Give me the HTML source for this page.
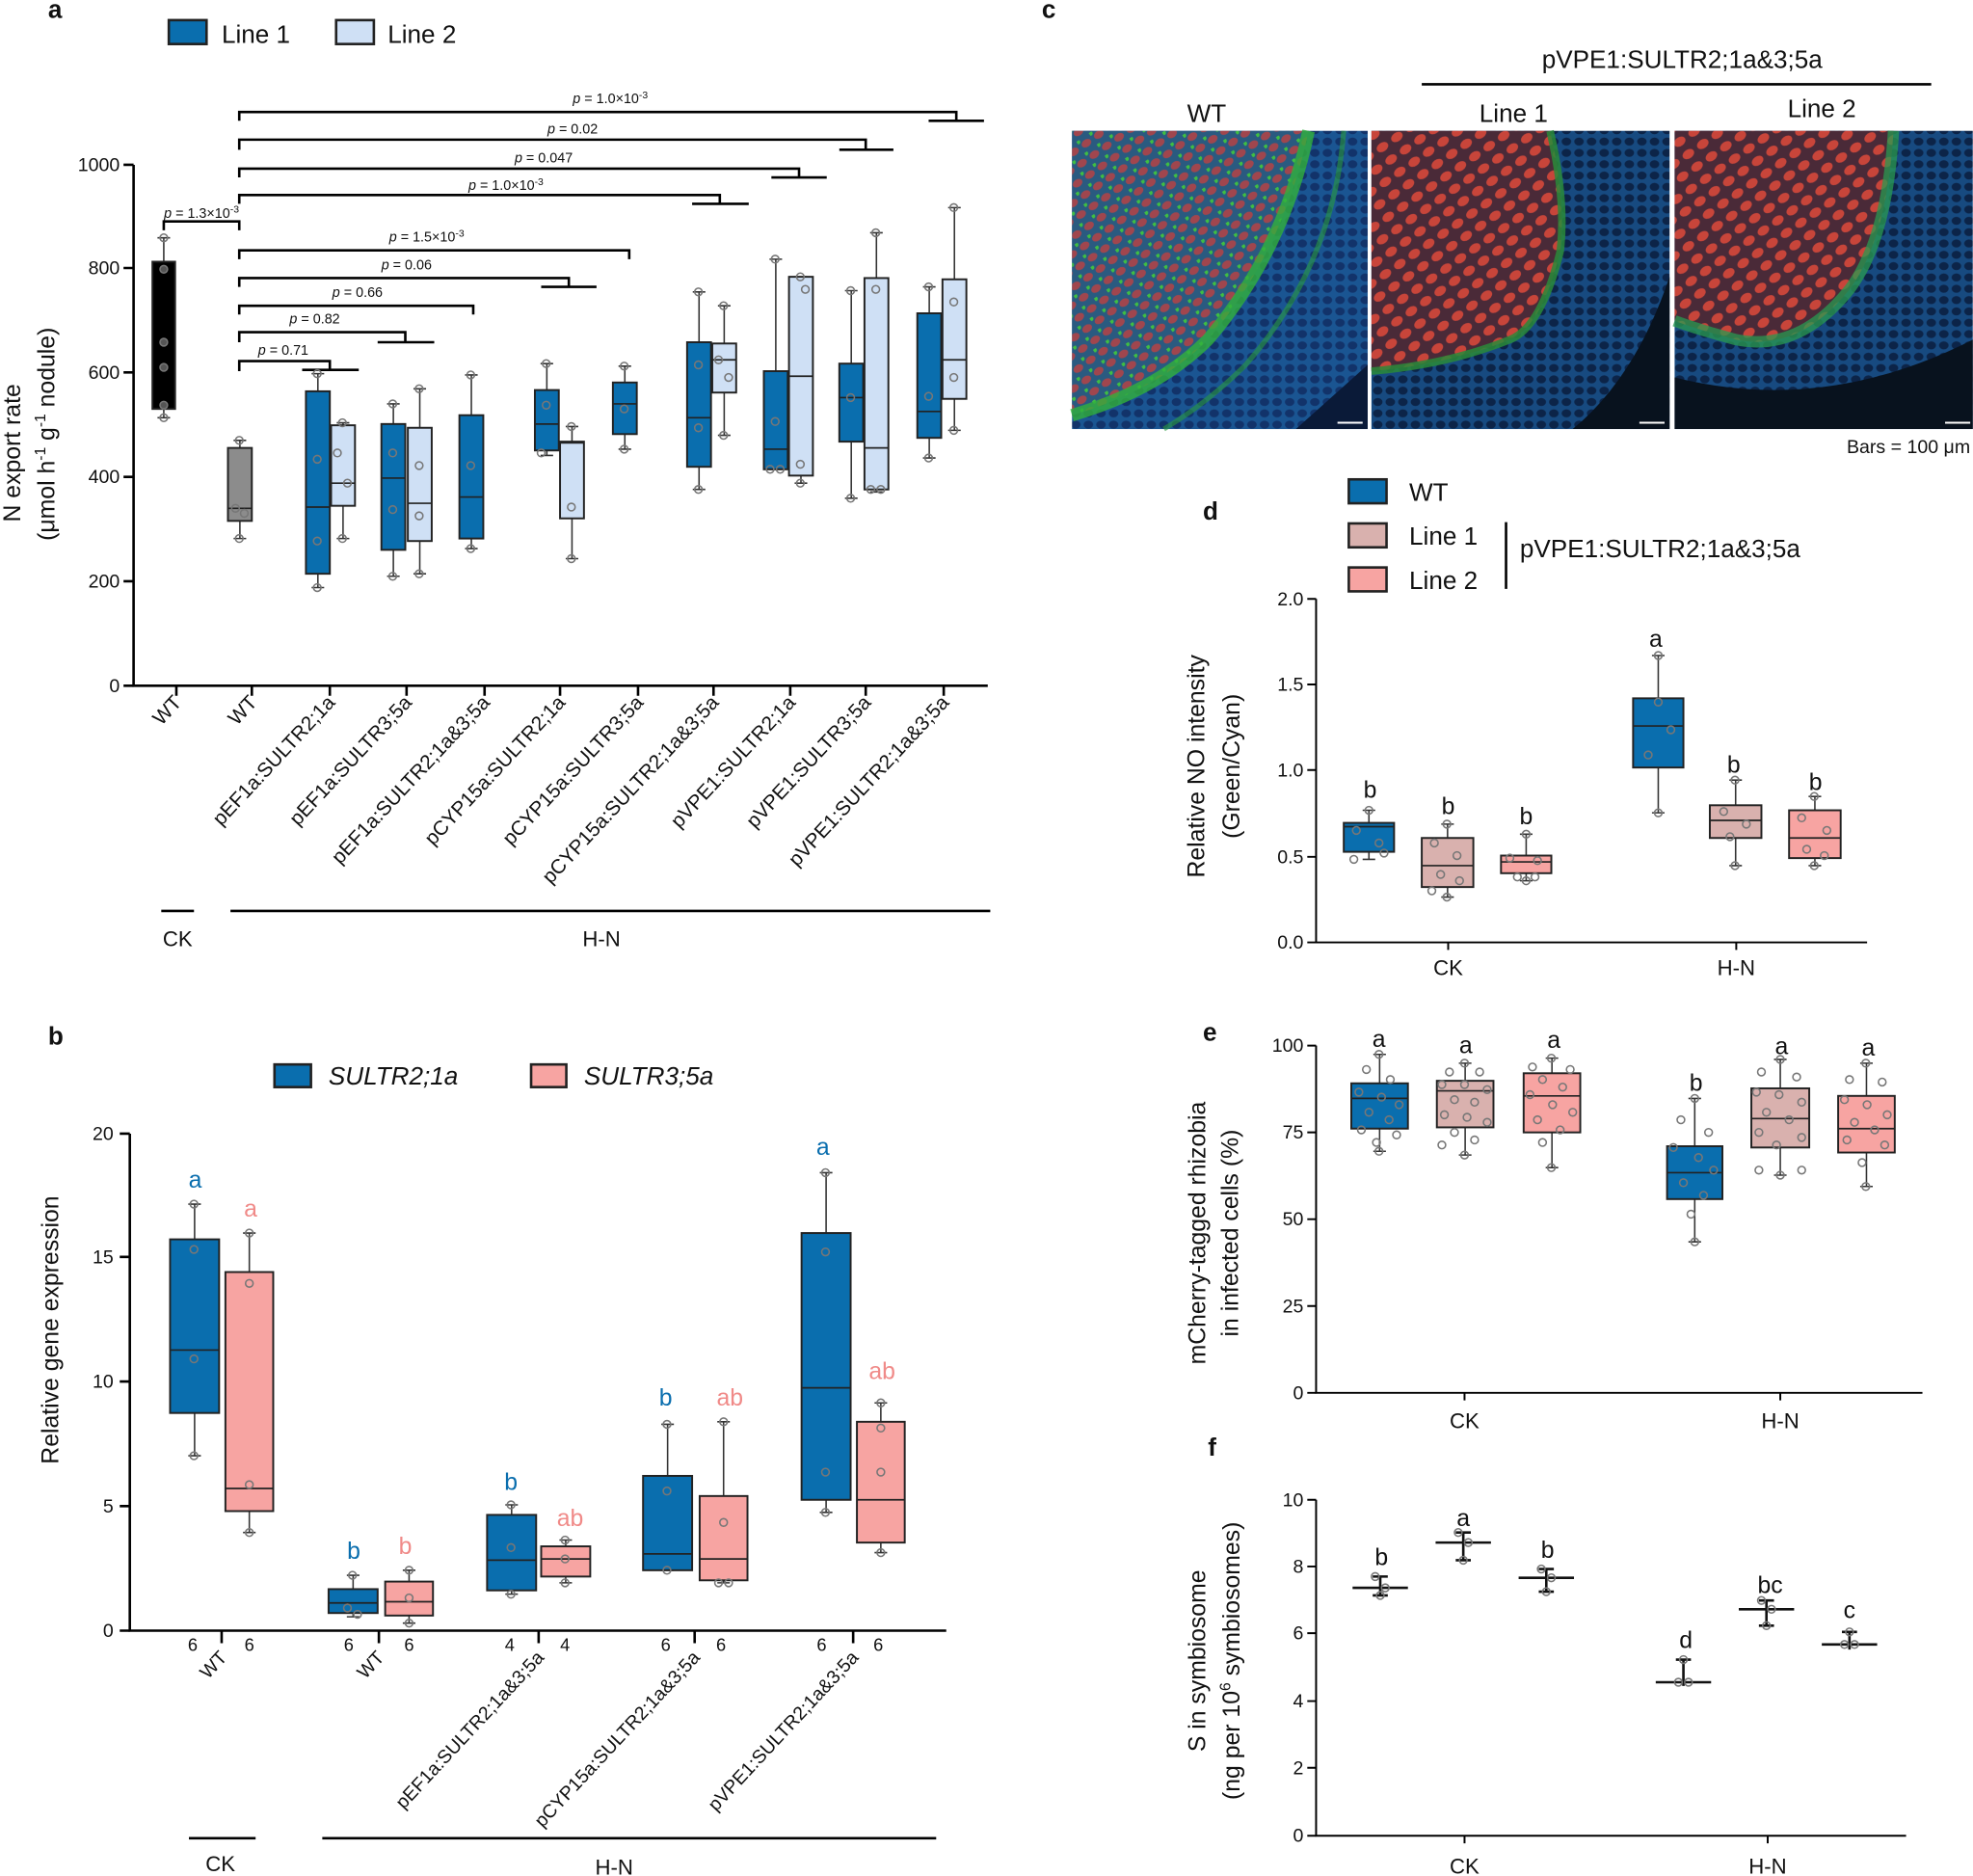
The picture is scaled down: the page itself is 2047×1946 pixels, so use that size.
<!DOCTYPE html>
<html><head><meta charset="utf-8"><style>
html,body{margin:0;padding:0;background:#fff}
svg{display:block}
text{font-family:"Liberation Sans",Arial,sans-serif;fill:#111}
.w{stroke:#333;stroke-width:1.2;fill:none}
.b{stroke:#222;stroke-width:1.5}
.m{stroke:#222;stroke-width:1.3;fill:none}
.d circle{fill:none;stroke:#777;stroke-width:1.2}
</style></head><body>
<svg width="2047" height="1946" viewBox="0 0 1568 1491" xmlns="http://www.w3.org/2000/svg">
<defs>
<pattern id="cellsR" width="14" height="12" patternUnits="userSpaceOnUse" patternTransform="rotate(-35)">
<rect width="14" height="12" fill="#4a2a38"/><ellipse cx="7" cy="6" rx="5" ry="3.6" fill="#c8453a"/></pattern>
<pattern id="cellsW" width="12" height="11" patternUnits="userSpaceOnUse" patternTransform="rotate(-35)">
<rect width="12" height="11" fill="#2a5a80"/><ellipse cx="6" cy="5.5" rx="4.2" ry="3" fill="#a0464e"/><circle cx="1" cy="1" r="1.8" fill="#3fbe43"/></pattern>
<pattern id="cellsB" width="10" height="9" patternUnits="userSpaceOnUse">
<rect width="10" height="9" fill="#1a5592"/><ellipse cx="5" cy="4.5" rx="3.8" ry="3.2" fill="#12336a"/></pattern>
<pattern id="cellsB2" width="10" height="9" patternUnits="userSpaceOnUse">
<rect width="10" height="9" fill="#174a80"/><ellipse cx="5" cy="4.5" rx="3.8" ry="3.2" fill="#0c2448"/></pattern>
</defs>
<g font-size="15">
<!-- PANEL A -->
<text x="38" y="14" font-size="20" font-weight="bold">a</text>
<rect x="134" y="16" width="30" height="19" fill="#0a6eae" stroke="#222" stroke-width="2"/>
<text x="176" y="34" font-size="20">Line 1</text>
<rect x="267" y="16" width="30" height="19" fill="#cfe0f5" stroke="#222" stroke-width="2"/>
<text x="308" y="34" font-size="20">Line 2</text>
<g stroke="#000" stroke-width="2" fill="none">
<path d="M106 131V545H785"/>
<path d="M98 131H106M98 213H106M98 296H106M98 379H106M98 462H106M98 545H106"/>
<path d="M140 545v8M200 545v8M262 545v8M323 545v8M385 545v8M445 545v8M507 545v8M567 545v8M628 545v8M688 545v8M750 545v8"/>
<path d="M190 96V89H760V96M738 96H782"/>
<path d="M190 119V111H688V119M667 119H710"/>
<path d="M190 141V134H635V141M613 141H657"/>
<path d="M190 162V155H572V162M550 162H595"/>
<path d="M190 206V199H500V206"/>
<path d="M190 228V221H452V228M430 228H474"/>
<path d="M190 250V243H376V250"/>
<path d="M190 272V264H322V272M300 272H345"/>
<path d="M190 295V287H262V294M240 294H285"/>
<path d="M130 183V176H190V183"/>
<path d="M128 724H154M183 724H787"/>
</g>
<g text-anchor="end" font-size="15"><text x="95" y="136">1000</text><text x="95" y="218">800</text><text x="95" y="301">600</text><text x="95" y="384">400</text><text x="95" y="467">200</text><text x="95" y="550">0</text></g>
<g font-size="11" text-anchor="middle">
<text x="485" y="82"><tspan font-style="italic">p</tspan> = 1.0×10<tspan dy="-4" font-size="8">-3</tspan></text>
<text x="455" y="106"><tspan font-style="italic">p</tspan> = 0.02</text>
<text x="432" y="129"><tspan font-style="italic">p</tspan> = 0.047</text>
<text x="402" y="151"><tspan font-style="italic">p</tspan> = 1.0×10<tspan dy="-4" font-size="8">-3</tspan></text>
<text x="339" y="192"><tspan font-style="italic">p</tspan> = 1.5×10<tspan dy="-4" font-size="8">-3</tspan></text>
<text x="323" y="214"><tspan font-style="italic">p</tspan> = 0.06</text>
<text x="284" y="236"><tspan font-style="italic">p</tspan> = 0.66</text>
<text x="250" y="257"><tspan font-style="italic">p</tspan> = 0.82</text>
<text x="225" y="282"><tspan font-style="italic">p</tspan> = 0.71</text>
<text x="160" y="173"><tspan font-style="italic">p</tspan> = 1.3×10<tspan dy="-4" font-size="8">-3</tspan></text>
</g>
<text transform="translate(16,360) rotate(-90)" text-anchor="middle" font-size="19">N export rate</text>
<text transform="translate(43,345) rotate(-90)" text-anchor="middle" font-size="19">(μmol h<tspan dy="-7" font-size="12">-1</tspan><tspan dy="7"> g</tspan><tspan dy="-7" font-size="12">-1</tspan><tspan dy="7"> nodule)</tspan></text>
<g font-size="16" text-anchor="end">
<text transform="translate(145,559) rotate(-47)">WT</text>
<text transform="translate(205,559) rotate(-47)">WT</text>
<text transform="translate(267,559) rotate(-47)">pEF1a:SULTR2;1a</text>
<text transform="translate(328,559) rotate(-47)">pEF1a:SULTR3;5a</text>
<text transform="translate(390,559) rotate(-47)">pEF1a:SULTR2;1a&amp;3;5a</text>
<text transform="translate(450,559) rotate(-47)">pCYP15a:SULTR2;1a</text>
<text transform="translate(512,559) rotate(-47)">pCYP15a:SULTR3;5a</text>
<text transform="translate(572,559) rotate(-47)">pCYP15a:SULTR2;1a&amp;3;5a</text>
<text transform="translate(633,559) rotate(-47)">pVPE1:SULTR2;1a</text>
<text transform="translate(693,559) rotate(-47)">pVPE1:SULTR3;5a</text>
<text transform="translate(755,559) rotate(-47)">pVPE1:SULTR2;1a&amp;3;5a</text>
</g>
<text x="141" y="752" text-anchor="middle" font-size="17">CK</text>
<text x="478" y="752" text-anchor="middle" font-size="17">H-N</text>

<!-- panel a boxes -->
<g class="w">
<path d="M130 189V332M125 189h10M125 332h10"/>
<path d="M190.5 350V428M185.5 350h10M185.5 428h10"/>
<path d="M252.5 297V467M247.5 297h10M247.5 467h10"/>
<path d="M272.5 336V428M267.5 336h10M267.5 428h10"/>
<path d="M312.5 321V458M307.5 321h10M307.5 458h10"/>
<path d="M333.5 309V456M328.5 309h10M328.5 456h10"/>
<path d="M374.5 298V436M369.5 298h10M369.5 436h10"/>
<path d="M434.5 289V362M429.5 289h10M429.5 362h10"/>
<path d="M454.5 339V444M449.5 339h10M449.5 444h10"/>
<path d="M496.5 291V357M491.5 291h10M491.5 357h10"/>
<path d="M555.5 232V389M550.5 232h10M550.5 389h10"/>
<path d="M575.5 243V346M570.5 243h10M570.5 346h10"/>
<path d="M616.5 206V373M611.5 206h10M611.5 373h10"/>
<path d="M636.5 220V384M631.5 220h10M631.5 384h10"/>
<path d="M676.5 231V396M671.5 231h10M671.5 396h10"/>
<path d="M696.5 185V391M691.5 185h10M691.5 391h10"/>
<path d="M738.5 228V364M733.5 228h10M733.5 364h10"/>
<path d="M758.5 165V342M753.5 165h10M753.5 342h10"/>
</g>
<g class="b">
<rect x="121" y="208" width="18" height="117" fill="#000"/>
<rect x="181" y="356" width="19" height="58" fill="#8c8c8c"/>
<rect x="243" y="311" width="19" height="145" fill="#0a6eae"/>
<rect x="263" y="338" width="19" height="64" fill="#cfe0f5"/>
<rect x="303" y="337" width="19" height="100" fill="#0a6eae"/>
<rect x="324" y="340" width="19" height="90" fill="#cfe0f5"/>
<rect x="365" y="330" width="19" height="98" fill="#0a6eae"/>
<rect x="425" y="310" width="19" height="48" fill="#0a6eae"/>
<rect x="445" y="351" width="19" height="61" fill="#cfe0f5"/>
<rect x="487" y="304" width="19" height="41" fill="#0a6eae"/>
<rect x="546" y="272" width="19" height="99" fill="#0a6eae"/>
<rect x="566" y="273" width="19" height="39" fill="#cfe0f5"/>
<rect x="607" y="295" width="19" height="78" fill="#0a6eae"/>
<rect x="627" y="220" width="19" height="158" fill="#cfe0f5"/>
<rect x="667" y="289" width="19" height="62" fill="#0a6eae"/>
<rect x="687" y="221" width="19" height="168" fill="#cfe0f5"/>
<rect x="729" y="249" width="19" height="99" fill="#0a6eae"/>
<rect x="749" y="222" width="19" height="95" fill="#cfe0f5"/>
</g>
<path class="m" d="M181 404h19M243 403h19M263 384h19M303 380h19M324 400h19M365 395h19M425 337h19M445 352h19M487 321h19M546 332h19M566 286h19M607 357h19M627 299h19M667 316h19M687 356h19M729 327h19M749 286h19"/>
<g class="d">
<circle cx="130" cy="189" r="3"/><circle cx="130" cy="214" r="3" style="fill:#555"/><circle cx="130" cy="272" r="3" style="fill:#555"/><circle cx="130" cy="292" r="3" style="fill:#555"/><circle cx="130" cy="322" r="3" style="fill:#555"/><circle cx="130" cy="332" r="3"/>
<circle cx="190" cy="350" r="3"/><circle cx="187" cy="404" r="3"/><circle cx="194" cy="408" r="3"/><circle cx="190" cy="428" r="3"/>
<circle cx="252" cy="297" r="3"/><circle cx="252" cy="365" r="3"/><circle cx="252" cy="430" r="3"/><circle cx="252" cy="467" r="3"/>
<circle cx="272" cy="336" r="3"/><circle cx="268" cy="360" r="3"/><circle cx="276" cy="384" r="3"/><circle cx="272" cy="428" r="3"/>
<circle cx="312" cy="321" r="3"/><circle cx="312" cy="360" r="3"/><circle cx="312" cy="405" r="3"/><circle cx="312" cy="458" r="3"/>
<circle cx="333" cy="309" r="3"/><circle cx="333" cy="370" r="3"/><circle cx="333" cy="410" r="3"/><circle cx="333" cy="456" r="3"/>
<circle cx="374" cy="298" r="3"/><circle cx="374" cy="370" r="3"/><circle cx="374" cy="436" r="3"/>
<circle cx="434" cy="289" r="3"/><circle cx="434" cy="322" r="3"/><circle cx="430" cy="360" r="3"/><circle cx="454" cy="339" r="3"/><circle cx="454" cy="403" r="3"/><circle cx="454" cy="444" r="3"/>
<circle cx="496" cy="291" r="3"/><circle cx="496" cy="325" r="3"/><circle cx="496" cy="357" r="3"/>
<circle cx="555" cy="232" r="3"/><circle cx="555" cy="290" r="3"/><circle cx="555" cy="340" r="3"/><circle cx="555" cy="389" r="3"/>
<circle cx="575" cy="243" r="3"/><circle cx="571" cy="286" r="3"/><circle cx="579" cy="300" r="3"/><circle cx="575" cy="346" r="3"/>
<circle cx="616" cy="206" r="3"/><circle cx="616" cy="335" r="3"/><circle cx="612" cy="373" r="3"/><circle cx="620" cy="373" r="3"/>
<circle cx="636" cy="220" r="3"/><circle cx="640" cy="230" r="3"/><circle cx="636" cy="369" r="3"/><circle cx="636" cy="384" r="3"/>
<circle cx="676" cy="231" r="3"/><circle cx="676" cy="316" r="3"/><circle cx="676" cy="396" r="3"/>
<circle cx="696" cy="185" r="3"/><circle cx="696" cy="230" r="3"/><circle cx="692" cy="389" r="3"/><circle cx="700" cy="389" r="3"/>
<circle cx="738" cy="228" r="3"/><circle cx="738" cy="315" r="3"/><circle cx="738" cy="364" r="3"/>
<circle cx="758" cy="165" r="3"/><circle cx="758" cy="240" r="3"/><circle cx="758" cy="300" r="3"/><circle cx="758" cy="342" r="3"/>
</g>

<!-- PANEL B -->
<text x="38" y="830" font-size="20" font-weight="bold">b</text>
<rect x="218" y="846" width="29" height="18" fill="#0a6eae" stroke="#222" stroke-width="2"/>
<text x="261" y="862" font-size="20" font-style="italic">SULTR2;1a</text>
<rect x="422" y="846" width="28" height="18" fill="#f7a4a2" stroke="#222" stroke-width="2"/>
<text x="464" y="862" font-size="20" font-style="italic">SULTR3;5a</text>
<g stroke="#000" stroke-width="2" fill="none">
<path d="M103 901V1296H752"/>
<path d="M95 901H103M95 999H103M95 1098H103M95 1197H103M95 1296H103"/>
<path d="M176 1296v10M301 1296v10M428 1296v10M552 1296v10M678 1296v10"/>
<path d="M150 1461H203M256 1461H744"/>
</g>
<g text-anchor="end"><text x="90" y="906">20</text><text x="90" y="1004">15</text><text x="90" y="1103">10</text><text x="90" y="1202">5</text><text x="90" y="1301">0</text></g>
<g text-anchor="middle" font-size="14"><text x="153" y="1312">6</text><text x="198" y="1312">6</text><text x="277" y="1312">6</text><text x="325" y="1312">6</text><text x="405" y="1312">4</text><text x="449" y="1312">4</text><text x="529" y="1312">6</text><text x="573" y="1312">6</text><text x="653" y="1312">6</text><text x="698" y="1312">6</text></g>
<g font-size="15" text-anchor="end">
<text transform="translate(181,1318) rotate(-47)">WT</text>
<text transform="translate(306,1318) rotate(-47)">WT</text>
<text transform="translate(433,1318) rotate(-47)">pEF1a:SULTR2;1a&amp;3;5a</text>
<text transform="translate(557,1318) rotate(-47)">pCYP15a:SULTR2;1a&amp;3;5a</text>
<text transform="translate(683,1318) rotate(-47)">pVPE1:SULTR2;1a&amp;3;5a</text>
</g>
<text x="175" y="1487" text-anchor="middle" font-size="17">CK</text>
<text x="488" y="1490" text-anchor="middle" font-size="17">H-N</text>
<text transform="translate(46,1057) rotate(-90)" text-anchor="middle" font-size="19">Relative gene expression</text>
<g font-size="19" text-anchor="middle">
<text x="155" y="944" style="fill:#0a6eae">a</text><text x="199" y="967" style="fill:#f08a88">a</text>
<text x="281" y="1239" style="fill:#0a6eae">b</text><text x="322" y="1235" style="fill:#f08a88">b</text>
<text x="406" y="1184" style="fill:#0a6eae">b</text><text x="453" y="1213" style="fill:#f08a88">ab</text>
<text x="529" y="1117" style="fill:#0a6eae">b</text><text x="580" y="1117" style="fill:#f08a88">ab</text>
<text x="654" y="918" style="fill:#0a6eae">a</text><text x="701" y="1096" style="fill:#f08a88">ab</text>
</g>
<g class="w">
<path d="M154.5 957V1157M149.5 957h10M149.5 1157h10"/>
<path d="M198 980V1218M193 980h10M193 1218h10"/>
<path d="M280.5 1252V1285M275.5 1252h10M275.5 1285h10"/>
<path d="M325 1248V1290M320 1248h10M320 1290h10"/>
<path d="M406.5 1196V1267M401.5 1196h10M401.5 1267h10"/>
<path d="M449.5 1224V1258M444.5 1224h10M444.5 1258h10"/>
<path d="M530.5 1132V1248M525.5 1132h10M525.5 1248h10"/>
<path d="M575 1130V1258M570 1130h10M570 1258h10"/>
<path d="M656.5 932V1202M651.5 932h10M651.5 1202h10"/>
<path d="M700 1115V1234M695 1115h10M695 1234h10"/>
</g>
<g class="b">
<rect x="135" y="985" width="39" height="138" fill="#0a6eae"/>
<rect x="179" y="1011" width="38" height="190" fill="#f7a4a2"/>
<rect x="261" y="1263" width="39" height="19" fill="#0a6eae"/>
<rect x="306" y="1257" width="38" height="27" fill="#f7a4a2"/>
<rect x="387" y="1204" width="39" height="60" fill="#0a6eae"/>
<rect x="430" y="1229" width="39" height="24" fill="#f7a4a2"/>
<rect x="511" y="1173" width="39" height="75" fill="#0a6eae"/>
<rect x="556" y="1189" width="38" height="67" fill="#f7a4a2"/>
<rect x="637" y="980" width="39" height="212" fill="#0a6eae"/>
<rect x="681" y="1130" width="38" height="96" fill="#f7a4a2"/>
</g>
<path class="m" d="M135 1073h39M179 1183h38M261 1274h39M306 1273h38M387 1240h39M430 1239h39M511 1235h39M556 1239h38M637 1103h39M681 1192h38"/>
<g class="d">
<circle cx="154" cy="957" r="3"/><circle cx="154" cy="993" r="3"/><circle cx="154" cy="1080" r="3"/><circle cx="154" cy="1157" r="3"/>
<circle cx="198" cy="980" r="3"/><circle cx="198" cy="1020" r="3"/><circle cx="198" cy="1180" r="3"/><circle cx="198" cy="1218" r="3"/>
<circle cx="280" cy="1252" r="3"/><circle cx="276" cy="1278" r="3"/><circle cx="284" cy="1283" r="3"/>
<circle cx="325" cy="1248" r="3"/><circle cx="325" cy="1270" r="3"/><circle cx="325" cy="1290" r="3"/>
<circle cx="406" cy="1196" r="3"/><circle cx="406" cy="1230" r="3"/><circle cx="406" cy="1267" r="3"/>
<circle cx="449" cy="1224" r="3"/><circle cx="449" cy="1239" r="3"/><circle cx="449" cy="1258" r="3"/>
<circle cx="530" cy="1132" r="3"/><circle cx="530" cy="1185" r="3"/><circle cx="530" cy="1248" r="3"/>
<circle cx="575" cy="1130" r="3"/><circle cx="575" cy="1210" r="3"/><circle cx="571" cy="1258" r="3"/><circle cx="579" cy="1258" r="3"/>
<circle cx="656" cy="932" r="3"/><circle cx="656" cy="995" r="3"/><circle cx="656" cy="1170" r="3"/><circle cx="656" cy="1202" r="3"/>
<circle cx="700" cy="1115" r="3"/><circle cx="700" cy="1135" r="3"/><circle cx="700" cy="1170" r="3"/><circle cx="700" cy="1234" r="3"/>
</g>

<!-- PANEL C -->
<text x="828" y="14" font-size="20" font-weight="bold">c</text>
<text x="1337" y="54" text-anchor="middle" font-size="20">pVPE1:SULTR2;1a&amp;3;5a</text>
<path d="M1130 67H1535" stroke="#000" stroke-width="2"/>
<text x="959" y="97" text-anchor="middle" font-size="20">WT</text>
<text x="1203" y="97" text-anchor="middle" font-size="20">Line 1</text>
<text x="1448" y="93" text-anchor="middle" font-size="20">Line 2</text>
<rect x="852" y="104" width="235" height="237" fill="url(#cellsB)"/>
<path d="M1030 341L1087 290V341Z" fill="#0a1a38"/>
<path d="M852 104H1040Q1020 200 960 270Q920 310 852 330Z" fill="url(#cellsW)"/>
<path d="M1040 104Q1020 200 960 270Q920 310 852 330" stroke="#32b03c" stroke-width="10" fill="none" opacity="0.8"/>
<path d="M1068 104Q1060 210 990 290Q960 320 925 341" stroke="#2a9a40" stroke-width="4" fill="none" opacity="0.6"/>
<rect x="1090" y="104" width="237" height="237" fill="url(#cellsB2)"/>
<path d="M1250 341Q1300 300 1327 220V341Z" fill="#08121e"/>
<path d="M1090 104H1232Q1245 160 1240 200Q1225 260 1200 270Q1150 290 1090 295Z" fill="url(#cellsR)"/>
<path d="M1232 104Q1245 160 1240 200Q1225 260 1200 270Q1150 290 1090 295" stroke="#2a8a3a" stroke-width="6" fill="none" opacity="0.85"/>
<rect x="1331" y="104" width="237" height="237" fill="url(#cellsB2)"/>
<path d="M1331 300Q1450 330 1568 270V341H1331Z" fill="#08121e"/>
<path d="M1331 104H1505Q1500 190 1470 230Q1430 280 1380 270Q1350 262 1331 255Z" fill="url(#cellsR)"/>
<path d="M1505 104Q1500 190 1470 230Q1430 280 1380 270Q1350 262 1331 255" stroke="#2a9a50" stroke-width="9" fill="none" opacity="0.75"/>
<g stroke="#fff" stroke-width="1.5"><path d="M1063 336h20M1303 336h20M1546 336h20"/></g>
<text x="1566" y="360" text-anchor="end" font-size="15">Bars = 100 μm</text>

<!-- PANEL D -->
<text x="956" y="413" font-size="20" font-weight="bold">d</text>
<rect x="1072" y="381" width="30" height="19" fill="#0a6eae" stroke="#222" stroke-width="2"/>
<text x="1120" y="398" font-size="20">WT</text>
<rect x="1072" y="416" width="30" height="19" fill="#d9b1ae" stroke="#222" stroke-width="2"/>
<text x="1120" y="433" font-size="20">Line 1</text>
<rect x="1072" y="451" width="30" height="19" fill="#f7a4a2" stroke="#222" stroke-width="2"/>
<text x="1120" y="468" font-size="20">Line 2</text>
<path d="M1197 415V468" stroke="#000" stroke-width="2"/>
<text x="1208" y="443" font-size="20">pVPE1:SULTR2;1a&amp;3;5a</text>
<g stroke="#000" stroke-width="1.5" fill="none">
<path d="M1046 476V749H1484"/>
<path d="M1039 476H1046M1039 544H1046M1039 612H1046M1039 681H1046M1039 749H1046"/>
<path d="M1151 749v6M1380 749v6"/>
</g>
<g text-anchor="end"><text x="1036" y="481">2.0</text><text x="1036" y="549">1.5</text><text x="1036" y="617">1.0</text><text x="1036" y="686">0.5</text><text x="1036" y="754">0.0</text></g>
<text x="1151" y="775" text-anchor="middle" font-size="17">CK</text>
<text x="1380" y="775" text-anchor="middle" font-size="17">H-N</text>
<text transform="translate(957,609) rotate(-90)" text-anchor="middle" font-size="19">Relative NO intensity</text>
<text transform="translate(985,609) rotate(-90)" text-anchor="middle" font-size="19">(Green/Cyan)</text>
<g font-size="19" text-anchor="middle"><text x="1089" y="634">b</text><text x="1151" y="647">b</text><text x="1213" y="655">b</text><text x="1316" y="514">a</text><text x="1378" y="614">b</text><text x="1443" y="628">b</text></g>
<g class="w">
<path d="M1088 644V683M1083 644h10M1083 683h10"/>
<path d="M1150.5 655V713M1145.5 655h10M1145.5 713h10"/>
<path d="M1213 663V700M1208 663h10M1208 700h10"/>
<path d="M1318 521V646M1313 521h10M1313 646h10"/>
<path d="M1379.5 620V688M1374.5 620h10M1374.5 688h10"/>
<path d="M1442.5 633V688M1437.5 633h10M1437.5 688h10"/>
</g>
<g class="b">
<rect x="1068" y="654" width="40" height="23" fill="#0a6eae"/>
<rect x="1130" y="666" width="41" height="39" fill="#d9b1ae"/>
<rect x="1193" y="680" width="40" height="14" fill="#f7a4a2"/>
<rect x="1298" y="555" width="40" height="55" fill="#0a6eae"/>
<rect x="1359" y="640" width="41" height="26" fill="#d9b1ae"/>
<rect x="1422" y="644" width="41" height="38" fill="#f7a4a2"/>
</g>
<path class="m" d="M1068 657h40M1130 688h41M1193 685h40M1298 577h40M1359 652h41M1422 666h41"/>
<g class="d">
<circle cx="1088" cy="644" r="3"/><circle cx="1078" cy="660" r="3"/><circle cx="1096" cy="670" r="3"/><circle cx="1076" cy="683" r="3"/><circle cx="1100" cy="678" r="3"/>
<circle cx="1150" cy="655" r="3"/><circle cx="1140" cy="670" r="3"/><circle cx="1158" cy="680" r="3"/><circle cx="1145" cy="695" r="3"/><circle cx="1160" cy="700" r="3"/><circle cx="1150" cy="713" r="3"/><circle cx="1138" cy="708" r="3"/>
<circle cx="1213" cy="663" r="3"/><circle cx="1200" cy="682" r="3"/><circle cx="1222" cy="684" r="3"/><circle cx="1206" cy="697" r="3"/><circle cx="1220" cy="697" r="3"/><circle cx="1213" cy="700" r="3"/>
<circle cx="1318" cy="521" r="3"/><circle cx="1318" cy="558" r="3"/><circle cx="1328" cy="580" r="3"/><circle cx="1310" cy="600" r="3"/><circle cx="1318" cy="646" r="3"/>
<circle cx="1379" cy="620" r="3"/><circle cx="1370" cy="645" r="3"/><circle cx="1388" cy="655" r="3"/><circle cx="1375" cy="665" r="3"/><circle cx="1379" cy="688" r="3"/>
<circle cx="1442" cy="633" r="3"/><circle cx="1432" cy="650" r="3"/><circle cx="1452" cy="660" r="3"/><circle cx="1436" cy="675" r="3"/><circle cx="1450" cy="680" r="3"/><circle cx="1442" cy="688" r="3"/>
</g>

<!-- PANEL E -->
<text x="956" y="827" font-size="20" font-weight="bold">e</text>
<g stroke="#000" stroke-width="1.5" fill="none">
<path d="M1046 831V1107H1528"/>
<path d="M1039 831H1046M1039 900H1046M1039 969H1046M1039 1038H1046M1039 1107H1046"/>
<path d="M1164 1107v6M1415 1107v6"/>
</g>
<g text-anchor="end"><text x="1036" y="836">100</text><text x="1036" y="905">75</text><text x="1036" y="974">50</text><text x="1036" y="1043">25</text><text x="1036" y="1112">0</text></g>
<text x="1164" y="1135" text-anchor="middle" font-size="17">CK</text>
<text x="1415" y="1135" text-anchor="middle" font-size="17">H-N</text>
<text transform="translate(958,980) rotate(-90)" text-anchor="middle" font-size="19">mCherry-tagged  rhizobia</text>
<text transform="translate(984,980) rotate(-90)" text-anchor="middle" font-size="19">in infected cells (%)</text>
<g font-size="19" text-anchor="middle"><text x="1096" y="832">a</text><text x="1165" y="837">a</text><text x="1235" y="833">a</text><text x="1348" y="867">b</text><text x="1416" y="838">a</text><text x="1485" y="839">a</text></g>
<g class="w">
<path d="M1096.5 838V915M1091.5 838h10M1091.5 915h10"/>
<path d="M1164.5 845V918M1159.5 845h10M1159.5 918h10"/>
<path d="M1233.5 841V928M1228.5 841h10M1228.5 928h10"/>
<path d="M1347 873V987M1342 873h10M1342 987h10"/>
<path d="M1415 842V934M1410 842h10M1410 934h10"/>
<path d="M1483.5 845V943M1478.5 845h10M1478.5 943h10"/>
</g>
<g class="b">
<rect x="1074" y="861" width="45" height="36" fill="#0a6eae"/>
<rect x="1142" y="859" width="45" height="37" fill="#d9b1ae"/>
<rect x="1211" y="853" width="45" height="47" fill="#f7a4a2"/>
<rect x="1325" y="911" width="44" height="42" fill="#0a6eae"/>
<rect x="1392" y="865" width="46" height="47" fill="#d9b1ae"/>
<rect x="1461" y="871" width="45" height="45" fill="#f7a4a2"/>
</g>
<path class="m" d="M1074 873h45M1142 867h45M1211 871h45M1325 932h44M1392 889h46M1461 897h45"/>
<g class="d">
<circle cx="1096" cy="838" r="3"/><circle cx="1086" cy="850" r="3"/><circle cx="1105" cy="858" r="3"/><circle cx="1080" cy="868" r="3"/><circle cx="1098" cy="872" r="3"/><circle cx="1112" cy="878" r="3"/><circle cx="1088" cy="884" r="3"/><circle cx="1104" cy="890" r="3"/><circle cx="1082" cy="898" r="3"/><circle cx="1110" cy="902" r="3"/><circle cx="1094" cy="908" r="3"/><circle cx="1096" cy="915" r="3"/>
<circle cx="1164" cy="845" r="3"/><circle cx="1152" cy="852" r="3"/><circle cx="1176" cy="852" r="3"/><circle cx="1146" cy="862" r="3"/><circle cx="1164" cy="862" r="3"/><circle cx="1182" cy="866" r="3"/><circle cx="1156" cy="874" r="3"/><circle cx="1172" cy="876" r="3"/><circle cx="1148" cy="886" r="3"/><circle cx="1166" cy="888" r="3"/><circle cx="1182" cy="892" r="3"/><circle cx="1156" cy="900" r="3"/><circle cx="1172" cy="906" r="3"/><circle cx="1164" cy="918" r="3"/><circle cx="1146" cy="910" r="3"/>
<circle cx="1233" cy="841" r="3"/><circle cx="1218" cy="848" r="3"/><circle cx="1248" cy="850" r="3"/><circle cx="1226" cy="858" r="3"/><circle cx="1242" cy="864" r="3"/><circle cx="1216" cy="870" r="3"/><circle cx="1234" cy="878" r="3"/><circle cx="1250" cy="884" r="3"/><circle cx="1222" cy="890" r="3"/><circle cx="1240" cy="898" r="3"/><circle cx="1226" cy="908" r="3"/><circle cx="1233" cy="928" r="3"/>
<circle cx="1347" cy="873" r="3"/><circle cx="1336" cy="890" r="3"/><circle cx="1358" cy="900" r="3"/><circle cx="1330" cy="912" r="3"/><circle cx="1350" cy="920" r="3"/><circle cx="1362" cy="930" r="3"/><circle cx="1338" cy="940" r="3"/><circle cx="1354" cy="950" r="3"/><circle cx="1344" cy="965" r="3"/><circle cx="1347" cy="987" r="3"/>
<circle cx="1415" cy="842" r="3"/><circle cx="1400" cy="852" r="3"/><circle cx="1428" cy="856" r="3"/><circle cx="1396" cy="868" r="3"/><circle cx="1414" cy="870" r="3"/><circle cx="1432" cy="876" r="3"/><circle cx="1404" cy="884" r="3"/><circle cx="1422" cy="890" r="3"/><circle cx="1398" cy="900" r="3"/><circle cx="1432" cy="904" r="3"/><circle cx="1412" cy="910" r="3"/><circle cx="1398" cy="930" r="3"/><circle cx="1415" cy="934" r="3"/><circle cx="1432" cy="930" r="3"/>
<circle cx="1483" cy="845" r="3"/><circle cx="1470" cy="858" r="3"/><circle cx="1496" cy="860" r="3"/><circle cx="1466" cy="874" r="3"/><circle cx="1484" cy="878" r="3"/><circle cx="1500" cy="886" r="3"/><circle cx="1474" cy="892" r="3"/><circle cx="1490" cy="898" r="3"/><circle cx="1468" cy="906" r="3"/><circle cx="1498" cy="910" r="3"/><circle cx="1480" cy="924" r="3"/><circle cx="1483" cy="943" r="3"/>
</g>

<!-- PANEL F -->
<text x="960" y="1157" font-size="20" font-weight="bold">f</text>
<g stroke="#000" stroke-width="1.5" fill="none">
<path d="M1046 1192V1459H1515"/>
<path d="M1039 1192H1046M1039 1245H1046M1039 1298H1046M1039 1352H1046M1039 1405H1046M1039 1459H1046"/>
<path d="M1164 1459v6M1405 1459v6"/>
</g>
<g text-anchor="end"><text x="1036" y="1197">10</text><text x="1036" y="1250">8</text><text x="1036" y="1303">6</text><text x="1036" y="1357">4</text><text x="1036" y="1410">2</text><text x="1036" y="1464">0</text></g>
<text x="1164" y="1489" text-anchor="middle" font-size="17">CK</text>
<text x="1405" y="1489" text-anchor="middle" font-size="17">H-N</text>
<text transform="translate(958,1320) rotate(-90)" text-anchor="middle" font-size="19">S in symbiosome</text>
<text transform="translate(985,1320) rotate(-90)" text-anchor="middle" font-size="19">(ng per 10<tspan dy="-7" font-size="12">6</tspan><tspan dy="7"> symbiosomes)</tspan></text>
<g font-size="19" text-anchor="middle"><text x="1098" y="1244">b</text><text x="1163" y="1213">a</text><text x="1230" y="1238">b</text><text x="1340" y="1310">d</text><text x="1407" y="1266">bc</text><text x="1470" y="1286">c</text></g>
<g stroke="#111" stroke-width="2" fill="none">
<path d="M1075 1262H1119M1097 1253V1268M1091 1253H1103M1091 1268H1103"/>
<path d="M1141 1226H1185M1163 1218V1240M1157 1218H1169M1157 1240H1169"/>
<path d="M1207 1254H1251M1229 1247V1265M1223 1247H1235M1223 1265H1235"/>
<path d="M1316 1337H1360M1338 1319V1340M1332 1319H1344"/>
<path d="M1382 1279H1426M1404 1272V1292M1398 1272H1410M1398 1292H1410"/>
<path d="M1448 1307H1492M1470 1297V1311M1464 1297H1476"/>
</g>
<g class="d">
<circle cx="1093" cy="1253" r="3"/><circle cx="1101" cy="1262" r="3"/><circle cx="1097" cy="1268" r="3"/>
<circle cx="1159" cy="1218" r="3"/><circle cx="1167" cy="1226" r="3"/><circle cx="1163" cy="1240" r="3"/>
<circle cx="1225" cy="1247" r="3"/><circle cx="1233" cy="1254" r="3"/><circle cx="1229" cy="1265" r="3"/>
<circle cx="1334" cy="1337" r="3"/><circle cx="1342" cy="1337" r="3"/><circle cx="1338" cy="1319" r="3"/>
<circle cx="1400" cy="1272" r="3"/><circle cx="1408" cy="1279" r="3"/><circle cx="1404" cy="1292" r="3"/>
<circle cx="1466" cy="1307" r="3"/><circle cx="1474" cy="1307" r="3"/><circle cx="1470" cy="1297" r="3"/>
</g>
</g>
</svg>
</body></html>
